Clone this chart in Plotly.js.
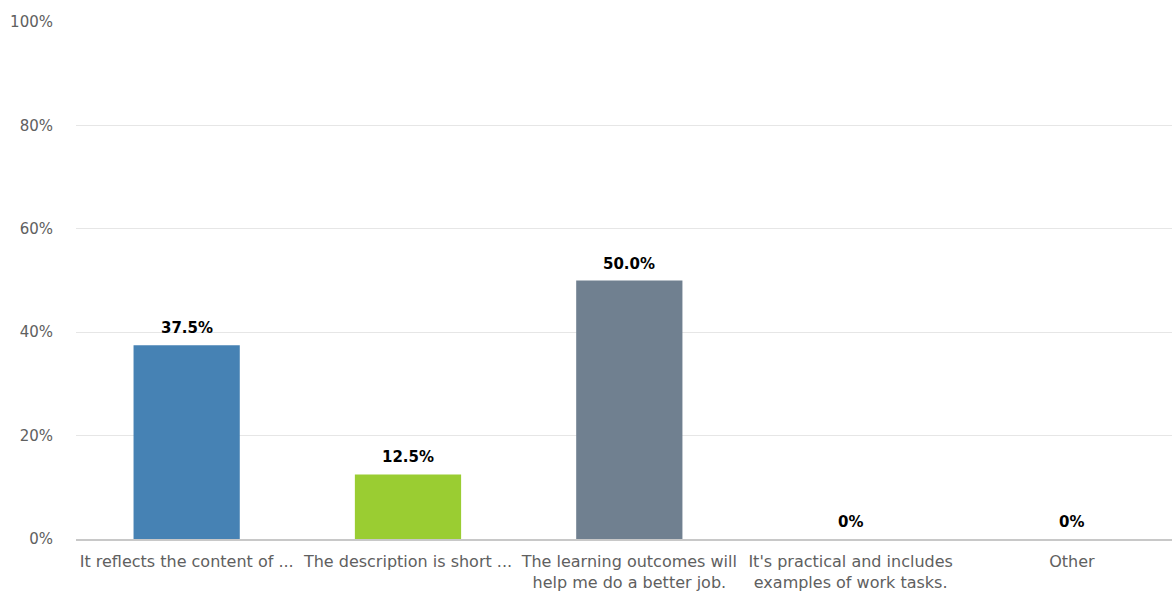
<!DOCTYPE html>
<html>
<head>
<meta charset="utf-8">
<script src="https://cdn.plot.ly/plotly-3.0.1.min.js"></script>
<style>html,body{margin:0;padding:0;background:#fff;overflow:hidden;}#chart{width:1172px;height:591px;}</style>
</head>
<body>
<div id="chart"></div>
<script>
var categories = [
  "It reflects the content of ...",
  "The description is short ...",
  "The learning outcomes will<br>help me do a better job.",
  "It's practical and includes<br>examples of work tasks.",
  "Other"
];
var values = [37.5, 12.5, 50.0, 0, 0];
var valueLabels = ["37.5%", "12.5%", "50.0%", "0%", "0%"];
var barColors = ["#4682B4", "#9ACD32", "#708090", "#4682B4", "#9ACD32"];
var yTickVals = [0, 20, 40, 60, 80, 100];
var yTickText = ["0%", "20%", "40%", "60%", "80%", "100%"];

var trace = {
  type: 'bar',
  x: categories,
  y: values,
  marker: {color: barColors},
  hoverinfo: 'x+y'
};

var annotations = categories.map(function (c, i) {
  return {
    x: c, y: values[i], xref: 'x', yref: 'y',
    text: valueLabels[i], showarrow: false,
    yanchor: 'bottom', yshift: 6,
    font: {family: 'DejaVu Sans, Verdana, sans-serif', size: 15, color: '#000', weight: 'bold'}
  };
});

var layout = {
  width: 1172, height: 591,
  margin: {l: 76, r: 0, t: 22, b: 52},
  paper_bgcolor: '#fff', plot_bgcolor: '#fff',
  bargap: 0.52,
  showlegend: false,
  annotations: annotations,
  font: {family: 'DejaVu Sans, Verdana, sans-serif', size: 15, color: '#606060'},
  xaxis: {
    type: 'category',
    range: [-0.5, 4.452],
    showgrid: false,
    showline: true, linecolor: '#c8c8c8', linewidth: 2,
    ticks: '',
    ticklabelstandoff: 7,
    tickfont: {size: 16, color: '#606060'},
    automargin: false
  },
  yaxis: {
    range: [0, 100],
    tickvals: yTickVals,
    ticktext: yTickText,
    showgrid: true, gridcolor: '#e6e6e6', gridwidth: 1,
    zeroline: false,
    showline: false,
    ticks: '',
    ticklabelstandoff: 22,
    tickfont: {size: 15, color: '#606060'},
    automargin: false
  }
};

Plotly.newPlot('chart', [trace], layout, {displayModeBar: false, staticPlot: true});
</script>
</body>
</html>
